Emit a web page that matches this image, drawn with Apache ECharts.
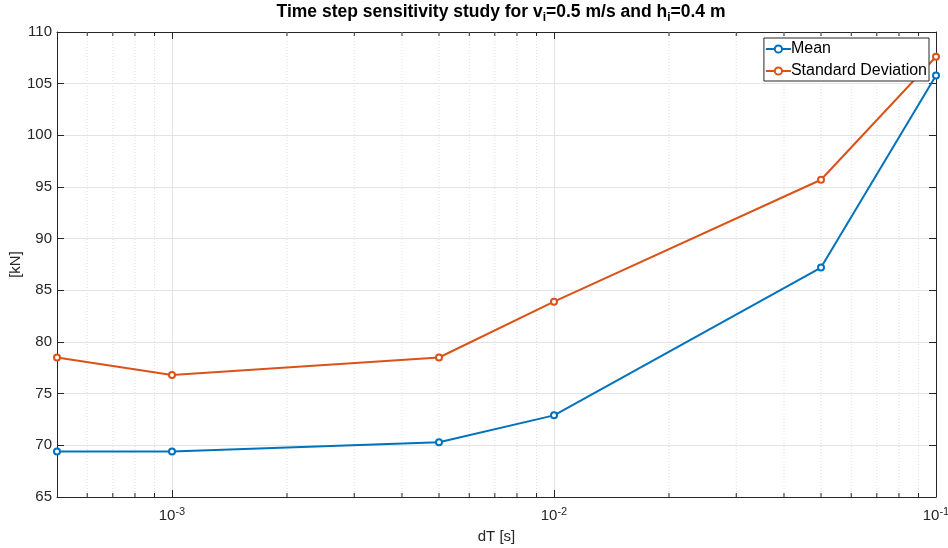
<!DOCTYPE html>
<html>
<head>
<meta charset="utf-8">
<script src="https://cdn.jsdelivr.net/npm/echarts@6/dist/echarts.min.js"></script>
<style>
  html, body { margin: 0; padding: 0; background: #fff; }
  #chart { width: 948px; height: 548px; }
</style>
</head>
<body>
<div id="chart"></div>
<script>
// data
const dT = [0.0005, 0.001, 0.005, 0.01, 0.05, 0.1];
const meanKN = [69.4, 69.4, 70.3, 72.9, 87.2, 105.8];
const stdKN = [78.5, 76.8, 78.5, 83.9, 95.7, 107.6];
// minor log grid positions (2..9 x decade)
const minorTicks = [0.0006, 0.0007, 0.0008, 0.0009,
  0.002, 0.003, 0.004, 0.005, 0.006, 0.007, 0.008, 0.009,
  0.02, 0.03, 0.04, 0.05, 0.06, 0.07, 0.08, 0.09];

const axisColor = '#262626';
const font = 'Liberation Sans, Arial, sans-serif';

const pairs = (xs, ys) => xs.map((x, i) => [x, ys[i]]);

const decadeLabel = (v) => {
    const e = Math.round(Math.log10(v));
    if (Math.abs(v - Math.pow(10, e)) / v > 0.01) return '';
    return '{b|10}{s|' + e + '}';
};

const getOption = () => {
    return {
        backgroundColor: '#fff',
        animation: false,
        textStyle: { fontFamily: font },
        title: {
            text: '{t|Time step sensitivity study for v}{s|i}{t|=0.5 m/s and h}{s|i}{t|=0.4 m}',
            left: 496,
            textAlign: 'center',
            top: -4,
            textStyle: {
                rich: {
                    t: { fontSize: 17.5, fontWeight: 'bold', color: '#000', fontFamily: font, lineHeight: 22 },
                    s: { fontSize: 12, fontWeight: 'bold', color: '#000', fontFamily: font, lineHeight: 22, padding: [11, 0, 0, 0] }
                }
            }
        },
        legend: {
            data: ['Mean', 'Standard Deviation'],
            orient: 'vertical',
            right: 19,
            top: 38,
            backgroundColor: '#fff',
            borderColor: axisColor,
            borderWidth: 1,
            borderRadius: 0,
            padding: [3, 2, 2, 1],
            itemWidth: 25,
            itemHeight: 9,
            itemGap: 6,
            textStyle: { fontSize: 16, color: '#000', fontFamily: font, padding: [0, 0, 0, -5] }
        },
        grid: { left: 57, right: 12, top: 32, bottom: 51, containLabel: false, outerBoundsMode: 'none' },
        xAxis: [
            {
                type: 'log',
                logBase: 10,
                min: 0.0005,
                max: 0.1,
                name: 'dT [s]',
                nameLocation: 'middle',
                nameGap: 32,
                nameTextStyle: { fontSize: 15, color: axisColor },
                axisLine: { lineStyle: { color: axisColor, width: 1 } },
                axisTick: { inside: true, length: 7, lineStyle: { color: axisColor } },
                axisLabel: {
                    margin: 9,
                    showMinLabel: false,
                    formatter: decadeLabel,
                    rich: {
                        b: { fontSize: 15, color: axisColor, fontFamily: font },
                        s: { fontSize: 11, color: axisColor, fontFamily: font, padding: [0, 0, 8, 0] }
                    }
                },
                splitLine: { show: true, lineStyle: { color: '#e3e3e3', width: 1 } }
            },
            {
                type: 'log',
                logBase: 10,
                min: 0.0005,
                max: 0.1,
                position: 'top',
                axisLine: { lineStyle: { color: axisColor, width: 1 } },
                axisTick: { inside: true, length: 7, lineStyle: { color: axisColor } },
                axisLabel: { show: false },
                splitLine: { show: false }
            }
        ],
        yAxis: [
            {
                type: 'value',
                min: 65,
                max: 110,
                interval: 5,
                name: '[kN]',
                nameLocation: 'middle',
                nameGap: 34,
                nameMoveOverlap: false,
                nameTextStyle: { fontSize: 15, color: axisColor },
                axisLine: { show: true, lineStyle: { color: axisColor, width: 1 } },
                axisTick: { show: true, inside: true, length: 7, lineStyle: { color: axisColor } },
                axisLabel: { fontSize: 15, color: axisColor, margin: 5 },
                splitLine: { show: true, lineStyle: { color: '#e3e3e3', width: 1 } }
            },
            {
                type: 'value',
                min: 65,
                max: 110,
                interval: 5,
                position: 'right',
                axisLine: { show: true, lineStyle: { color: axisColor, width: 1 } },
                axisTick: { show: true, inside: true, length: 7, lineStyle: { color: axisColor } },
                axisLabel: { show: false },
                splitLine: { show: false }
            }
        ],
        series: [
            {
                name: 'minor',
                type: 'custom',
                silent: true,
                z: 1,
                xAxisIndex: 0,
                yAxisIndex: 0,
                data: minorTicks.map(v => [v, 65]),
                renderItem: (params, api) => {
                    const x = api.coord([api.value(0), 65])[0];
                    const top = params.coordSys.y;
                    const bottom = params.coordSys.y + params.coordSys.height;
                    return {
                        type: 'group',
                        children: [
                            { type: 'line', shape: { x1: x, y1: top, x2: x, y2: bottom },
                              style: { stroke: '#e0e0e0', lineWidth: 1, lineDash: [1, 2] } },
                            { type: 'line', shape: { x1: x, y1: bottom, x2: x, y2: bottom - 4 },
                              style: { stroke: axisColor, lineWidth: 1 } },
                            { type: 'line', shape: { x1: x, y1: top, x2: x, y2: top + 4 },
                              style: { stroke: axisColor, lineWidth: 1 } }
                        ]
                    };
                }
            },
            {
                name: 'Mean',
                type: 'line',
                z: 3,
                data: pairs(dT, meanKN),
                symbol: 'emptyCircle',
                symbolSize: 6,
                lineStyle: { color: '#0072BD', width: 2 },
                itemStyle: { color: '#0072BD', borderWidth: 1.5 }
            },
            {
                name: 'Standard Deviation',
                type: 'line',
                z: 3,
                data: pairs(dT, stdKN),
                symbol: 'emptyCircle',
                symbolSize: 6,
                lineStyle: { color: '#D95319', width: 2 },
                itemStyle: { color: '#D95319', borderWidth: 1.5 }
            }
        ]
    };
};

let chart;
function initChart(){
    chart = echarts.init(document.getElementById('chart'));
    chart.setOption(getOption());
}

document.addEventListener('DOMContentLoaded', function(){
    initChart();
});
</script>
</body>
</html>
